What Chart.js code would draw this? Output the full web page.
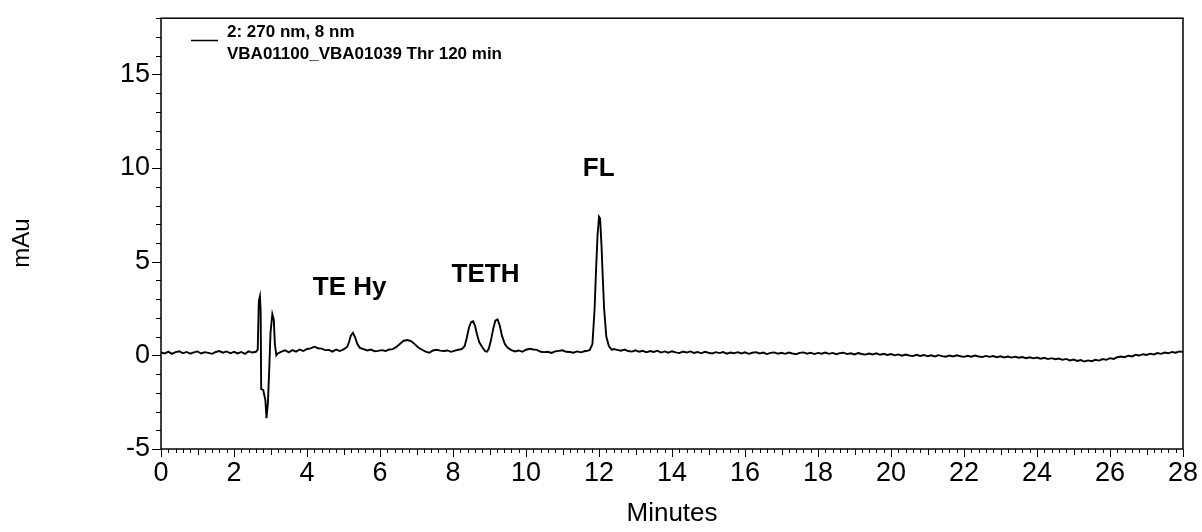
<!DOCTYPE html>
<html>
<head>
<meta charset="utf-8">
<title>Chromatogram 270 nm</title>
<script src="https://cdn.jsdelivr.net/npm/chart.js@4.4.1/dist/chart.umd.min.js"></script>
<style>
  html, body { margin: 0; padding: 0; background: #fff; }
  #wrap { width: 1202px; height: 532px; position: relative; }
</style>
</head>
<body>
<div id="wrap"><canvas id="chrom"></canvas></div>
<script>
// -----------------------------------------------------------------
// Trace data: [time (min), absorbance (mAu)], split by region
// -----------------------------------------------------------------
const baselineStart = [
  [0.0, 0.15], [0.1, 0.1], [0.2, 0.2], [0.3, 0.08], [0.4, 0.17], [0.5, 0.22],
  [0.6, 0.11], [0.7, 0.18], [0.8, 0.09], [0.9, 0.16], [1.0, 0.21], [1.1, 0.1],
  [1.2, 0.17], [1.3, 0.13], [1.4, 0.08], [1.5, 0.18], [1.6, 0.23], [1.7, 0.14],
  [1.8, 0.21], [1.9, 0.11], [2.0, 0.19], [2.1, 0.1], [2.2, 0.18], [2.3, 0.08],
  [2.4, 0.21], [2.5, 0.15], [2.6, 0.19], [2.65, 0.3]
];

const solventFront = [
  [2.68, 2.9], [2.71, 3.15], [2.73, 2.4], [2.745, -1.8], [2.8, -1.85],
  [2.86, -2.4], [2.89, -3.35], [2.93, -2.5], [2.97, -0.5], [3.0, 1.2],
  [3.05, 2.2], [3.09, 1.9], [3.12, 0.6], [3.16, 0.0], [3.2, 0.1]
];

const teHyRegion = [
  [3.3, 0.2], [3.4, 0.27], [3.5, 0.16], [3.6, 0.28], [3.7, 0.2], [3.8, 0.31],
  [3.9, 0.23], [4.0, 0.34], [4.1, 0.37], [4.2, 0.46], [4.3, 0.38], [4.4, 0.36],
  [4.5, 0.28], [4.6, 0.29], [4.7, 0.2], [4.8, 0.31], [4.9, 0.23], [5.0, 0.32],
  [5.1, 0.45], [5.15, 0.7], [5.2, 1.05], [5.26, 1.2], [5.32, 0.95], [5.38, 0.6],
  [5.45, 0.4], [5.55, 0.33], [5.65, 0.26], [5.75, 0.31], [5.85, 0.22], [5.95, 0.24],
  [6.05, 0.28], [6.15, 0.23], [6.25, 0.31], [6.35, 0.33], [6.45, 0.45], [6.55, 0.62],
  [6.65, 0.78], [6.75, 0.82], [6.85, 0.76], [6.95, 0.6], [7.05, 0.42], [7.15, 0.3],
  [7.25, 0.2], [7.35, 0.14], [7.45, 0.26], [7.55, 0.3], [7.65, 0.25], [7.75, 0.23],
  [7.85, 0.26], [7.95, 0.19], [8.05, 0.25], [8.15, 0.3], [8.25, 0.34]
];

const tethRegion = [
  [8.32, 0.5], [8.38, 0.95], [8.44, 1.5], [8.5, 1.78], [8.55, 1.82], [8.6, 1.6],
  [8.66, 1.1], [8.72, 0.7], [8.8, 0.45], [8.88, 0.22], [8.93, 0.2], [8.98, 0.35],
  [9.04, 0.8], [9.1, 1.4], [9.16, 1.85], [9.22, 1.92], [9.28, 1.6], [9.34, 1.05],
  [9.42, 0.6], [9.5, 0.4]
];

const preFlRegion = [
  [9.6, 0.28], [9.7, 0.21], [9.8, 0.26], [9.9, 0.19], [10.0, 0.3], [10.1, 0.35],
  [10.2, 0.31], [10.3, 0.29], [10.4, 0.19], [10.5, 0.17], [10.6, 0.19], [10.7, 0.13],
  [10.8, 0.21], [10.9, 0.24], [11.0, 0.27], [11.1, 0.19], [11.2, 0.18], [11.3, 0.14],
  [11.4, 0.21], [11.5, 0.16], [11.6, 0.22], [11.7, 0.25], [11.75, 0.3]
];

const flPeak = [
  [11.82, 0.6], [11.88, 2.5], [11.92, 4.6], [11.96, 6.4], [12.0, 7.4], [12.03, 7.3],
  [12.07, 5.8], [12.1, 4.3], [12.14, 2.5], [12.2, 1.0], [12.27, 0.5], [12.35, 0.3]
];

const tailBaseline = [
  [12.4, 0.34], [12.5, 0.29], [12.6, 0.25], [12.7, 0.31], [12.8, 0.23], [12.9, 0.2],
  [13.0, 0.27], [13.1, 0.19], [13.2, 0.24], [13.3, 0.16], [13.4, 0.23], [13.5, 0.18],
  [13.6, 0.25], [13.7, 0.15], [13.8, 0.21], [13.9, 0.14], [14.0, 0.22], [14.1, 0.16],
  [14.2, 0.12], [14.3, 0.2], [14.4, 0.15], [14.5, 0.21], [14.6, 0.13], [14.7, 0.18],
  [14.8, 0.11], [14.9, 0.19], [15.0, 0.14], [15.1, 0.1], [15.2, 0.17], [15.3, 0.12],
  [15.4, 0.18], [15.5, 0.09], [15.6, 0.15], [15.7, 0.11], [15.8, 0.17], [15.9, 0.1],
  [16.0, 0.16], [16.1, 0.08], [16.2, 0.14], [16.3, 0.17], [16.4, 0.1], [16.5, 0.15],
  [16.6, 0.07], [16.7, 0.13], [16.8, 0.16], [16.9, 0.09], [17.0, 0.14], [17.1, 0.08],
  [17.2, 0.15], [17.3, 0.1], [17.4, 0.06], [17.5, 0.13], [17.6, 0.16], [17.7, 0.09],
  [17.8, 0.14], [17.9, 0.07], [18.0, 0.13], [18.1, 0.09], [18.2, 0.15], [18.3, 0.08],
  [18.4, 0.13], [18.5, 0.06], [18.6, 0.12], [18.7, 0.14], [18.8, 0.07], [18.9, 0.11],
  [19.0, 0.05], [19.1, 0.12], [19.2, 0.07], [19.3, 0.04], [19.4, 0.1], [19.5, 0.05],
  [19.6, 0.11], [19.7, 0.03], [19.8, 0.08], [19.9, 0.02], [20.0, 0.07], [20.1, 0.0],
  [20.2, 0.05], [20.3, -0.02], [20.4, 0.04], [20.5, -0.01], [20.6, -0.04], [20.7, 0.03],
  [20.8, -0.03], [20.9, 0.02], [21.0, -0.05], [21.1, 0.0], [21.2, -0.06], [21.3, 0.01],
  [21.4, -0.04], [21.5, -0.07], [21.6, -0.01], [21.7, -0.06], [21.8, 0.0], [21.9, -0.05],
  [22.0, -0.08], [22.1, -0.02], [22.2, -0.07], [22.3, -0.01], [22.4, -0.06], [22.5, -0.09],
  [22.6, -0.03], [22.7, -0.08], [22.8, -0.04], [22.9, -0.1], [23.0, -0.05], [23.1, -0.11],
  [23.2, -0.06], [23.3, -0.12], [23.4, -0.07], [23.5, -0.13], [23.6, -0.09], [23.7, -0.15],
  [23.8, -0.1], [23.9, -0.16], [24.0, -0.12], [24.1, -0.18], [24.2, -0.13], [24.3, -0.2],
  [24.4, -0.15], [24.5, -0.21], [24.6, -0.17], [24.7, -0.24], [24.8, -0.19], [24.9, -0.27],
  [25.0, -0.22], [25.1, -0.3], [25.2, -0.25], [25.3, -0.33], [25.4, -0.27], [25.5, -0.31],
  [25.6, -0.24], [25.7, -0.28], [25.8, -0.2], [25.9, -0.24], [26.0, -0.15], [26.1, -0.19],
  [26.2, -0.1], [26.3, -0.06], [26.4, -0.1], [26.5, -0.02], [26.6, -0.06], [26.7, 0.03],
  [26.8, -0.01], [26.9, 0.06], [27.0, 0.02], [27.1, 0.09], [27.2, 0.05], [27.3, 0.12],
  [27.4, 0.08], [27.5, 0.15], [27.6, 0.11], [27.7, 0.18], [27.8, 0.14], [27.9, 0.21],
  [28.0, 0.18]
];

// peak names, anchored at (time, mAu) just above each peak group
const peakLabels = [
  { text: 'TE Hy', t: 5.17, v: 3.2 },
  { text: 'TETH', t: 8.89, v: 3.9 },
  { text: 'FL', t: 11.99, v: 9.55 }
];

const legendLines = ['2: 270 nm, 8 nm', 'VBA01100_VBA01039 Thr 120 min'];

// axis ranges
const X_MIN = 0, X_MAX = 28, X_STEP = 0.2;
const Y_MIN = -5, Y_MAX = 18, Y_STEP = 1;

const FONT = "'Liberation Sans', Arial, sans-serif";

const trace = [].concat(baselineStart, solventFront, teHyRegion, tethRegion,
  preFlRegion, flPeak, tailBaseline).map(p => ({ x: p[0], y: p[1] }));

function isMultiple(v, m) {
  return Math.abs(v / m - Math.round(v / m)) < 1e-6;
}

// -----------------------------------------------------------------
// frame, tick marks, legend and peak names
// -----------------------------------------------------------------
const chromDecor = {
  id: 'chromDecor',
  afterDraw(chart) {
    const { ctx, chartArea: a, scales } = chart;
    const xs = scales.x, ys = scales.y;
    ctx.save();
    ctx.strokeStyle = '#000';
    ctx.lineWidth = 1.5;
    ctx.strokeRect(a.left, a.top, a.right - a.left, a.bottom - a.top);

    ctx.lineWidth = 1;
    ctx.beginPath();
    xs.ticks.forEach(t => {
      const px = Math.round(xs.getPixelForValue(t.value)) + 0.5;
      const len = isMultiple(t.value, 2) ? 8 : (isMultiple(t.value, 1) ? 6 : 4);
      ctx.moveTo(px, a.bottom);
      ctx.lineTo(px, a.bottom + len);
    });
    ys.ticks.forEach(t => {
      const py = Math.round(ys.getPixelForValue(t.value)) + 0.5;
      const len = isMultiple(t.value, 5) ? 9 : 5;
      ctx.moveTo(a.left, py);
      ctx.lineTo(a.left - len, py);
    });
    ctx.stroke();

    // y axis title
    ctx.fillStyle = '#000';
    ctx.font = '24px ' + FONT;
    ctx.textAlign = 'center';
    ctx.textBaseline = 'middle';
    ctx.translate(22, 243);
    ctx.rotate(-Math.PI / 2);
    ctx.fillText('mAu', 0, 0);
    ctx.setTransform(1, 0, 0, 1, 0, 0);

    // legend: line sample and two text lines
    ctx.lineWidth = 1.5;
    ctx.beginPath();
    ctx.moveTo(191, 40.5);
    ctx.lineTo(218, 40.5);
    ctx.stroke();
    ctx.font = 'bold 17px ' + FONT;
    ctx.textAlign = 'left';
    ctx.textBaseline = 'alphabetic';
    ctx.fillText(legendLines[0], 227, 37);
    ctx.fillText(legendLines[1], 227, 59);

    // peak names
    ctx.font = 'bold 26px ' + FONT;
    ctx.textAlign = 'center';
    peakLabels.forEach(p => {
      ctx.fillText(p.text, xs.getPixelForValue(p.t), ys.getPixelForValue(p.v));
    });
    ctx.restore();
  }
};

const ctx = document.getElementById('chrom').getContext('2d');
new Chart(ctx, {
  type: 'line',
  data: {
    datasets: [{
      label: legendLines.join(' '),
      data: trace,
      borderColor: '#000',
      borderWidth: 1.9,
      pointRadius: 0,
      tension: 0,
      fill: false
    }]
  },
  options: {
    responsive: true,
    maintainAspectRatio: false,
    animation: false,
    layout: { padding: { top: 15, right: 19, left: 0, bottom: 0 } },
    plugins: {
      legend: { display: false },
      tooltip: { enabled: false }
    },
    scales: {
      x: {
        type: 'linear',
        min: X_MIN,
        max: X_MAX,
        border: { display: false },
        grid: { drawOnChartArea: false, tickLength: 8, tickColor: 'rgba(0,0,0,0)' },
        ticks: {
          stepSize: X_STEP,
          autoSkip: false,
          maxRotation: 0,
          maxTicksLimit: 1000,
          padding: 0,
          color: '#000',
          font: { family: FONT, size: 27 },
          callback: v => isMultiple(v, 2) ? String(Math.round(v)) : ''
        },
        title: {
          display: true,
          text: 'Minutes',
          color: '#000',
          font: { family: FONT, size: 26 },
          padding: { top: 0, bottom: 3 }
        },
        afterFit: s => { s.height = 83; }
      },
      y: {
        type: 'linear',
        min: Y_MIN,
        max: Y_MAX,
        border: { display: false },
        grid: { drawOnChartArea: false, tickLength: 9, tickColor: 'rgba(0,0,0,0)' },
        ticks: {
          stepSize: Y_STEP,
          autoSkip: false,
          maxTicksLimit: 1000,
          padding: 2,
          color: '#000',
          font: { family: FONT, size: 27 },
          callback: v => isMultiple(v, 5) ? String(Math.round(v)) : ''
        },
        afterFit: s => { s.width = 161; }
      }
    }
  },
  plugins: [chromDecor]
});
</script>
</body>
</html>
